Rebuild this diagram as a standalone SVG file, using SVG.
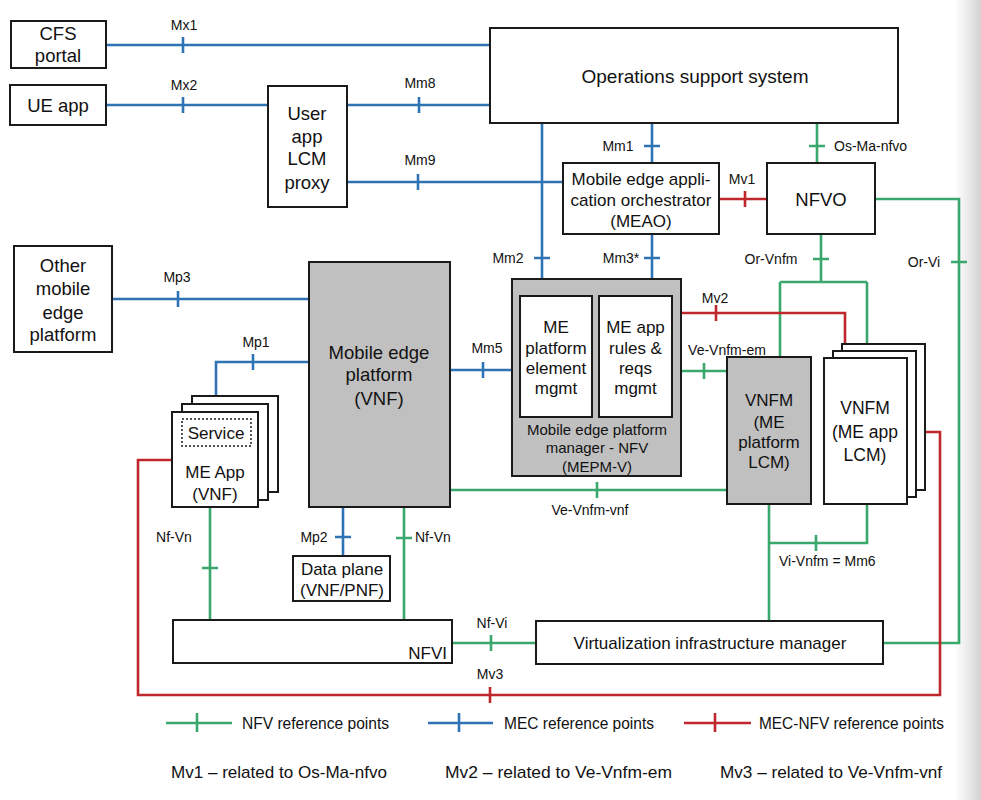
<svg xmlns="http://www.w3.org/2000/svg" width="981" height="800" viewBox="0 0 981 800">
<defs>
<linearGradient id="shade" x1="0" y1="0" x2="1" y2="0">
<stop offset="0" stop-color="#ffffff"/>
<stop offset="0.6" stop-color="#e6e6e6"/>
<stop offset="1" stop-color="#d2d2d2"/>
</linearGradient>
<style>
.box{fill:#fff;stroke:#1a1a1a;stroke-width:2}
.gbox{fill:#c0c0c0;stroke:#1a1a1a;stroke-width:2}
.dash{fill:none;stroke:#1a1a1a;stroke-width:1.5;stroke-dasharray:2 2}
text{font-family:'Liberation Sans',Arial,sans-serif;fill:#111}
.big{font-size:18.5px;text-anchor:middle}
.mid{font-size:17px;text-anchor:middle}
.sm{font-size:14px}
.smc{font-size:14px;text-anchor:middle}
.leg{font-size:16px}
.note{font-size:17px}
.b{stroke:#2e74b5;stroke-width:2.6;fill:none}
.g{stroke:#3aa76d;stroke-width:2.6;fill:none}
.r{stroke:#c0272d;stroke-width:2.6;fill:none}
</style>
</defs>
<rect x="0" y="0" width="981" height="800" fill="#fff"/>
<rect x="955" y="0" width="26" height="800" fill="url(#shade)"/>

<g id="connectors">
<!-- MEC (blue) -->
<path class="b" d="M106,45H490M183,37V53"/>
<path class="b" d="M106,105H268M183,97V113"/>
<path class="b" d="M347,105H490M419,97V113"/>
<path class="b" d="M347,182H563M418,174V190"/>
<path class="b" d="M652,123V163M644,146H660"/>
<path class="b" d="M542,123V279M534,258H550"/>
<path class="b" d="M652,234V279M644,258H660"/>
<path class="b" d="M112,299H309M178,291V307"/>
<path class="b" d="M309,362H216V412M253,354V370"/>
<path class="b" d="M450,370H512M483,362V378"/>
<path class="b" d="M343,507V556M335,537H351"/>
<!-- NFV (green) -->
<path class="g" d="M817,123V163M809,146H825"/>
<path class="g" d="M821,234V282M813,259H829M780,282H867M780,282V357M867,282V358"/>
<path class="g" d="M875,199H959V643H883M951,262H967"/>
<path class="g" d="M681,371H727M704,363V379"/>
<path class="g" d="M450,490H727M597,482V498"/>
<path class="g" d="M769,504V621M867,504V543H769M816,535V551"/>
<path class="g" d="M210,507V620M202,568H218"/>
<path class="g" d="M404,507V620M396,538H412"/>
<path class="g" d="M452,643H536M491,635V651"/>
<!-- MEC-NFV (red) -->
<path class="r" d="M719,199H767M745,191V207"/>
<path class="r" d="M681,313H845V358M716,305V321"/>
<path class="r" d="M907,432H940V695H138V460H172M490,687V703"/>
</g>

<g id="connector-labels">
<text class="smc" x="184" y="30">Mx1</text>
<text class="smc" x="184" y="90">Mx2</text>
<text class="smc" x="420" y="88">Mm8</text>
<text class="smc" x="420" y="165">Mm9</text>
<text class="smc" x="618" y="151">Mm1</text>
<text class="sm" x="834" y="151">Os-Ma-nfvo</text>
<text class="smc" x="742" y="184">Mv1</text>
<text class="smc" x="508" y="263">Mm2</text>
<text class="smc" x="621" y="263">Mm3*</text>
<text class="smc" x="771" y="264">Or-Vnfm</text>
<text class="smc" x="924" y="267">Or-Vi</text>
<text class="smc" x="177" y="282">Mp3</text>
<text class="smc" x="256" y="347">Mp1</text>
<text class="smc" x="487" y="353">Mm5</text>
<text class="smc" x="715" y="303">Mv2</text>
<text class="smc" x="727" y="355">Ve-Vnfm-em</text>
<text class="smc" x="590" y="515">Ve-Vnfm-vnf</text>
<text class="sm" x="779" y="566">Vi-Vnfm = Mm6</text>
<text class="smc" x="314" y="542">Mp2</text>
<text class="sm" x="415" y="542">Nf-Vn</text>
<text class="smc" x="174" y="542">Nf-Vn</text>
<text class="smc" x="492" y="628">Nf-Vi</text>
<text class="smc" x="490" y="679">Mv3</text>
</g>

<g id="cfs-portal">
<rect class="box" x="11" y="21" width="95" height="47"/>
<text class="big" x="58" y="39.5">CFS</text>
<text class="big" x="58" y="61.5">portal</text>
</g>
<g id="ue-app">
<rect class="box" x="10" y="85" width="96" height="40"/>
<text class="big" x="58" y="111.5">UE app</text>
</g>
<g id="user-app-lcm-proxy">
<rect class="box" x="268" y="86" width="79" height="121"/>
<text class="big" x="307" y="119.5">User</text>
<text class="big" x="307" y="142.5">app</text>
<text class="big" x="307" y="164.5">LCM</text>
<text class="big" x="307" y="188.5">proxy</text>
</g>
<g id="oss">
<rect class="box" x="490" y="28" width="408" height="95"/>
<text class="big" x="695" y="83" style="font-size:19px">Operations support system</text>
</g>
<g id="meao">
<rect class="box" x="563" y="163" width="156" height="71"/>
<text class="mid" x="641" y="185">Mobile edge appli-</text>
<text class="mid" x="641" y="206">cation orchestrator</text>
<text class="mid" x="641" y="227">(MEAO)</text>
</g>
<g id="nfvo">
<rect class="box" x="767" y="163" width="108" height="71"/>
<text class="big" x="821" y="205.5">NFVO</text>
</g>
<g id="other-mep">
<rect class="box" x="14" y="246" width="98" height="106"/>
<text class="big" x="63" y="271.5">Other</text>
<text class="big" x="63" y="294.5">mobile</text>
<text class="big" x="63" y="318.5">edge</text>
<text class="big" x="63" y="340.5">platform</text>
</g>
<g id="mep">
<rect class="gbox" x="309" y="262" width="141" height="245"/>
<text class="big" x="379" y="358.5">Mobile edge</text>
<text class="big" x="379" y="380.5">platform</text>
<text class="big" x="379" y="404.5">(VNF)</text>
</g>
<g id="mepm-v">
<rect class="gbox" x="512" y="279" width="169" height="197"/>
<rect class="box" x="520" y="296" width="72" height="121"/>
<rect class="box" x="599" y="296" width="73" height="121"/>
<text class="mid" x="556" y="333">ME</text>
<text class="mid" x="556" y="354">platform</text>
<text class="mid" x="556" y="374">element</text>
<text class="mid" x="556" y="394">mgmt</text>
<text class="mid" x="635.5" y="333">ME app</text>
<text class="mid" x="635.5" y="354">rules &amp;</text>
<text class="mid" x="635.5" y="374">reqs</text>
<text class="mid" x="635.5" y="394">mgmt</text>
<text class="mid" x="597" y="435" style="font-size:15px">Mobile edge platform</text>
<text class="mid" x="597" y="453" style="font-size:15px">manager - NFV</text>
<text class="mid" x="597" y="472" style="font-size:15px">(MEPM-V)</text>
</g>
<g id="vnfm-platform">
<rect class="gbox" x="727" y="357" width="84" height="147"/>
<text class="mid" x="769" y="406">VNFM</text>
<text class="mid" x="769" y="428">(ME</text>
<text class="mid" x="769" y="448">platform</text>
<text class="mid" x="769" y="468">LCM)</text>
</g>
<g id="vnfm-app">
<rect class="box" x="842" y="344" width="83" height="146"/>
<rect class="box" x="833" y="351" width="83" height="146"/>
<rect class="box" x="824" y="358" width="83" height="146"/>
<text class="mid" x="865" y="414" style="font-size:17.5px">VNFM</text>
<text class="mid" x="865" y="438" style="font-size:17.5px">(ME app</text>
<text class="mid" x="865" y="461" style="font-size:17.5px">LCM)</text>
</g>
<g id="me-app">
<rect class="box" x="192" y="396" width="86" height="96"/>
<rect class="box" x="182" y="404" width="86" height="96"/>
<rect class="box" x="172" y="412" width="86" height="95"/>
<rect class="dash" x="182" y="419" width="69" height="27"/>
<text class="mid" x="216" y="439">Service</text>
<text class="mid" x="215" y="478">ME App</text>
<text class="mid" x="215" y="500">(VNF)</text>
</g>
<g id="data-plane">
<rect class="box" x="293" y="556" width="97" height="45"/>
<text class="mid" x="342" y="575">Data plane</text>
<text class="mid" x="342" y="596">(VNF/PNF)</text>
</g>
<g id="nfvi">
<rect class="box" x="173" y="620" width="279" height="43"/>
<text class="mid" x="447" y="659" style="text-anchor:end">NFVI</text>
</g>
<g id="vim">
<rect class="box" x="536" y="621" width="347" height="43"/>
<text class="mid" x="710" y="649">Virtualization infrastructure manager</text>
</g>

<g id="legend">
<path class="g" d="M166,723H232M197,713V732"/>
<text class="leg" x="242" y="729" textLength="147" lengthAdjust="spacingAndGlyphs">NFV reference points</text>
<path class="b" d="M428,723H493M459,713V732"/>
<text class="leg" x="504" y="729" textLength="150" lengthAdjust="spacingAndGlyphs">MEC reference points</text>
<path class="r" d="M684,723H751M715,713V732"/>
<text class="leg" x="759" y="729" textLength="185" lengthAdjust="spacingAndGlyphs">MEC-NFV reference points</text>
<text class="note" x="171" y="778" textLength="216" lengthAdjust="spacingAndGlyphs">Mv1 – related to Os-Ma-nfvo</text>
<text class="note" x="445" y="778" textLength="227" lengthAdjust="spacingAndGlyphs">Mv2 – related to Ve-Vnfm-em</text>
<text class="note" x="720" y="778" textLength="222" lengthAdjust="spacingAndGlyphs">Mv3 – related to Ve-Vnfm-vnf</text>
</g>
</svg>
